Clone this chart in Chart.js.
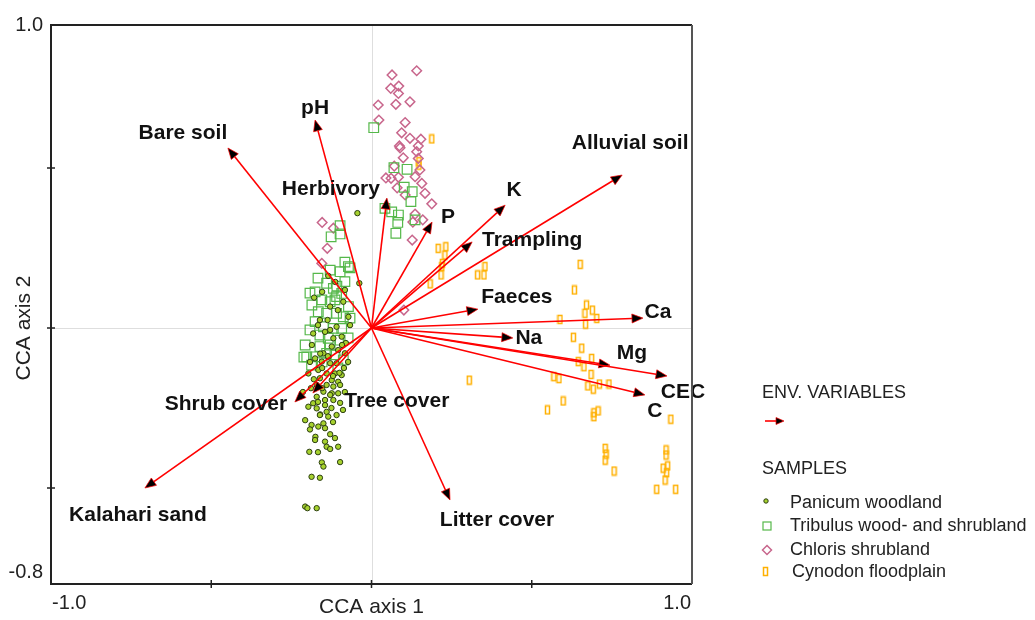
<!DOCTYPE html>
<html>
<head>
<meta charset="utf-8">
<script src="https://cdn.jsdelivr.net/npm/chart.js@4.4.0/dist/chart.umd.min.js"></script>
<style>
  html, body { margin: 0; padding: 0; background: #fff; }
  #wrap { width: 1035px; height: 620px; }
</style>
</head>
<body>
<div id="wrap"><canvas id="cca" width="1035" height="620"></canvas></div>
<script>
// axes
const xRange = [-1.0, 1.0];
const yRange = [-0.8, 0.947];
const xTickMarks = [-0.5, 0, 0.5];
const yTickMarks = [-0.5, 0, 0.5];
const xEndLabels = ['-1.0', '1.0'];
const yEndLabels = ['-0.8', '1.0'];
const xTitle = 'CCA axis 1';
const yTitle = 'CCA axis 2';

// environmental variables (biplot arrows)
const envNames = ['Bare soil', 'pH', 'Herbivory', 'P', 'K', 'Trampling', 'Alluvial soil', 'Faeces',
  'Ca', 'Na', 'Mg', 'CEC', 'C', 'Litter cover', 'Kalahari sand', 'Shrub cover', 'Tree cover'];
const envX = [-0.448, -0.176, 0.048, 0.189, 0.417, 0.314, 0.782, 0.332,
  0.847, 0.441, 0.744, 0.922, 0.853, 0.245, -0.707, -0.239, -0.183];
const envY = [0.5625, 0.650, 0.406, 0.331, 0.384, 0.269, 0.478, 0.059,
  0.031, -0.031, -0.116, -0.150, -0.209, -0.5375, -0.500, -0.231, -0.203];

// sample groups
const groupNames = ['Panicum woodland', 'Tribulus wood- and shrubland', 'Chloris shrubland', 'Cynodon floodplain'];

const panicumPts = [
  [-0.135, 0.163], [-0.038, 0.140], [-0.179, 0.095], [-0.088, 0.082], [-0.129, 0.067], [-0.072, 0.035],
  [-0.137, 0.025], [-0.109, 0.004], [-0.182, -0.017], [-0.145, -0.012], [-0.119, -0.032], [-0.093, -0.027],
  [-0.124, -0.058], [-0.104, -0.069], [-0.150, -0.079], [-0.083, -0.079], [-0.176, -0.095], [-0.155, -0.105],
  [-0.129, -0.110], [-0.109, -0.110], [-0.197, -0.142], [-0.166, -0.131], [-0.140, -0.142], [-0.114, -0.142],
  [-0.093, -0.147], [-0.161, -0.157], [-0.124, -0.163], [-0.104, -0.168], [-0.171, -0.178], [-0.140, -0.178],
  [-0.119, -0.183], [-0.098, -0.178], [-0.150, -0.199], [-0.124, -0.204], [-0.104, -0.204], [-0.171, -0.215],
  [-0.145, -0.225], [-0.119, -0.225], [-0.182, -0.235], [-0.145, -0.241], [-0.197, -0.246], [-0.171, -0.251],
  [-0.140, -0.262], [-0.109, -0.272], [-0.135, -0.277], [-0.187, -0.303], [-0.166, -0.308], [-0.150, -0.298],
  [-0.192, -0.317], [-0.145, -0.313], [-0.129, -0.332], [-0.145, -0.355], [-0.140, -0.371], [-0.104, -0.371],
  [-0.129, -0.378], [-0.194, -0.387], [-0.155, -0.420], [-0.150, -0.433], [-0.187, -0.465], [-0.161, -0.468],
  [-0.207, -0.558], [-0.200, -0.563], [-0.171, -0.563], [-0.044, 0.359], [-0.161, 0.025], [-0.129, -0.006],
  [-0.080, -0.047], [-0.186, -0.053], [-0.086, -0.125], [-0.154, -0.188], [-0.189, -0.188], [-0.083, -0.200],
  [-0.098, -0.234], [-0.214, -0.200], [-0.207, -0.288], [-0.160, -0.080], [-0.135, -0.090], [-0.120, -0.150],
  [-0.180, -0.160], [-0.100, -0.140], [-0.160, -0.270], [-0.125, -0.250], [-0.175, -0.340],
  [-0.113, 0.144], [-0.083, 0.119], [-0.154, 0.113], [-0.105, 0.056], [-0.167, 0.009], [-0.067, 0.009],
  [-0.092, -0.053], [-0.136, -0.088], [-0.073, -0.106], [-0.192, -0.106], [-0.154, -0.125], [-0.129, -0.209],
  [-0.167, -0.231], [-0.089, -0.256], [-0.161, -0.272], [-0.120, -0.294], [-0.176, -0.350], [-0.114, -0.344],
  [-0.167, -0.388], [-0.098, -0.419]
];
const tribulusPts = [
  [0.007, 0.626], [0.070, 0.501], [0.111, 0.496], [0.102, 0.440], [0.127, 0.426], [0.123, 0.395],
  [0.042, 0.374], [0.063, 0.363], [0.084, 0.353], [0.082, 0.330], [0.136, 0.338], [0.076, 0.296],
  [-0.098, 0.320], [-0.126, 0.285], [-0.098, 0.294], [-0.072, 0.192], [-0.098, 0.176], [-0.140, 0.140],
  [-0.176, 0.113], [-0.119, 0.124], [-0.093, 0.108], [-0.129, 0.082], [-0.072, 0.067], [-0.166, 0.051],
  [-0.140, 0.046], [-0.109, 0.046], [-0.088, 0.035], [-0.176, 0.020], [-0.150, 0.004], [-0.119, -0.001],
  [-0.093, -0.001], [-0.161, -0.022], [-0.135, -0.032], [-0.098, -0.038], [-0.161, -0.058], [-0.202, -0.090],
  [-0.176, -0.090], [-0.140, -0.079], [-0.114, -0.084], [-0.088, -0.100], [-0.187, -0.116], [-0.155, 0.088],
  [-0.109, 0.098], [-0.083, 0.145], [-0.192, 0.109], [-0.211, -0.091], [-0.067, 0.188], [-0.108, 0.131],
  [-0.083, 0.206], [-0.129, 0.181], [-0.167, 0.156], [-0.114, 0.088], [-0.186, 0.072], [-0.067, 0.031],
  [-0.192, -0.006], [-0.073, -0.031], [-0.129, -0.053], [-0.207, -0.053], [-0.154, -0.106], [-0.105, -0.125]
];
const chlorisPts = [
  [0.141, 0.804], [0.064, 0.791], [0.060, 0.749], [0.085, 0.756], [0.084, 0.733], [0.021, 0.697],
  [0.076, 0.699], [0.120, 0.707], [0.023, 0.650], [0.105, 0.642], [0.094, 0.610], [0.120, 0.593],
  [0.154, 0.590], [0.087, 0.569], [0.146, 0.569], [0.141, 0.551], [0.099, 0.532], [0.146, 0.530],
  [0.071, 0.506], [0.151, 0.494], [0.136, 0.473], [0.061, 0.468], [0.084, 0.471], [0.157, 0.452],
  [0.105, 0.416], [0.167, 0.421], [0.188, 0.388], [0.136, 0.356], [0.160, 0.338], [0.127, 0.275],
  [-0.154, 0.330], [-0.119, 0.312], [-0.138, 0.249], [-0.155, 0.202], [0.101, 0.056], [0.089, 0.563],
  [0.045, 0.469], [0.080, 0.438], [0.129, 0.331]
];
const cynodonPts = [
  [0.208, 0.249], [0.232, 0.254], [0.229, 0.228], [0.221, 0.202], [0.219, 0.192], [0.217, 0.166],
  [0.183, 0.138], [0.331, 0.166], [0.351, 0.166], [0.354, 0.192], [0.651, 0.199], [0.633, 0.119],
  [0.671, 0.072], [0.689, 0.056], [0.666, 0.046], [0.703, 0.030], [0.588, 0.027], [0.668, 0.012],
  [0.630, -0.029], [0.656, -0.063], [0.687, -0.095], [0.645, -0.105], [0.663, -0.121], [0.685, -0.145],
  [0.569, -0.152], [0.585, -0.158], [0.305, -0.163], [0.675, -0.181], [0.692, -0.191], [0.711, -0.175],
  [0.741, -0.175], [0.598, -0.228], [0.549, -0.256], [0.707, -0.259], [0.694, -0.265], [0.694, -0.277],
  [0.934, -0.285], [0.729, -0.376], [0.732, -0.394], [0.729, -0.413], [0.757, -0.447], [0.919, -0.381],
  [0.919, -0.397], [0.924, -0.431], [0.910, -0.438], [0.921, -0.452], [0.916, -0.475], [0.890, -0.504],
  [0.949, -0.504], [0.188, 0.591], [0.148, 0.520], [0.148, 0.509]
];

const FONT = '"Liberation Sans", Arial, Helvetica, sans-serif';
const ARROW_RED = '#ff0000';

// label placement relative to arrow tip (px)
const envLabelOffset = {
  'Bare soil': [-45, -15], 'pH': [0, -12], 'Herbivory': [-56, -9], 'P': [16, -5], 'K': [9, -15],
  'Trampling': [60, -2], 'Alluvial soil': [8, -32], 'Faeces': [39, -12], 'Ca': [15, -6], 'Na': [16, 0],
  'Mg': [22, -12], 'CEC': [16, 16], 'C': [10, 16], 'Litter cover': [47, 20], 'Kalahari sand': [-7, 27],
  'Shrub cover': [-69, 2], 'Tree cover': [84, 8]
};

function makeBarMarker(color) {
  const c = document.createElement('canvas');
  c.width = 7;
  c.height = 11;
  const g = c.getContext('2d');
  g.strokeStyle = color;
  g.lineWidth = 1.5;
  g.strokeRect(1.5, 1.5, 4, 8);
  return c;
}
const cynodonMarker = makeBarMarker('#ffb000');

function toXY(pts) {
  return pts.map(p => ({ x: p[0], y: p[1] }));
}

function drawArrow(ctx, x0, y0, x1, y1, headLen, headHalf) {
  const ang = Math.atan2(y1 - y0, x1 - x0);
  const c = Math.cos(ang), s = Math.sin(ang);
  const bx = x1 - headLen * c, by = y1 - headLen * s;
  ctx.strokeStyle = ARROW_RED;
  ctx.lineWidth = 1.6;
  ctx.beginPath();
  ctx.moveTo(x0, y0);
  ctx.lineTo(bx, by);
  ctx.stroke();
  ctx.beginPath();
  ctx.moveTo(x1, y1);
  ctx.lineTo(bx + headHalf * s, by - headHalf * c);
  ctx.lineTo(bx - headHalf * s, by + headHalf * c);
  ctx.closePath();
  ctx.fillStyle = '#000';
  ctx.fill();
  ctx.strokeStyle = ARROW_RED;
  ctx.lineWidth = 0.7;
  ctx.stroke();
}

// zero lines behind the samples
const zeroLines = {
  id: 'zeroLines',
  beforeDatasetsDraw(chart) {
    const { ctx, chartArea: a, scales: { x, y } } = chart;
    const px = Math.round(x.getPixelForValue(0)) + 0.5;
    const py = Math.round(y.getPixelForValue(0)) + 0.5;
    ctx.save();
    ctx.strokeStyle = '#dedede';
    ctx.lineWidth = 1;
    ctx.beginPath();
    ctx.moveTo(px, a.top); ctx.lineTo(px, a.bottom);
    ctx.moveTo(a.left, py); ctx.lineTo(a.right, py);
    ctx.stroke();
    ctx.restore();
  }
};

// biplot arrows, frame, ticks, labels, legend
const biplot = {
  id: 'biplot',
  afterDatasetsDraw(chart) {
    const { ctx, scales: { x, y } } = chart;
    const ox = x.getPixelForValue(0), oy = y.getPixelForValue(0);
    ctx.save();
    envNames.forEach((name, i) => {
      drawArrow(ctx, ox, oy, x.getPixelForValue(envX[i]), y.getPixelForValue(envY[i]), 11, 4.5);
    });
    ctx.font = 'bold 21px ' + FONT;
    ctx.fillStyle = '#111';
    ctx.textAlign = 'center';
    ctx.textBaseline = 'middle';
    envNames.forEach((name, i) => {
      const off = envLabelOffset[name] || [0, 0];
      ctx.fillText(name, x.getPixelForValue(envX[i]) + off[0], y.getPixelForValue(envY[i]) + off[1]);
    });
    ctx.restore();
  },
  afterDraw(chart) {
    const { ctx, chartArea: a, scales: { x, y } } = chart;
    ctx.save();
    // frame
    ctx.lineWidth = 2;
    ctx.strokeStyle = '#222';
    ctx.beginPath();
    ctx.moveTo(a.right, a.bottom); ctx.lineTo(a.left, a.bottom);
    ctx.lineTo(a.left, a.top); ctx.lineTo(a.right, a.top);
    ctx.stroke();
    ctx.strokeStyle = '#555';
    ctx.beginPath();
    ctx.moveTo(a.right, a.top); ctx.lineTo(a.right, a.bottom);
    ctx.stroke();
    // tick marks
    ctx.strokeStyle = '#222';
    ctx.lineWidth = 1.5;
    ctx.beginPath();
    xTickMarks.forEach(v => {
      const p = x.getPixelForValue(v);
      ctx.moveTo(p, a.bottom - 4); ctx.lineTo(p, a.bottom + 4);
    });
    yTickMarks.forEach(v => {
      const p = y.getPixelForValue(v);
      ctx.moveTo(a.left - 4, p); ctx.lineTo(a.left + 4, p);
    });
    ctx.stroke();

    // end labels
    ctx.fillStyle = '#222';
    ctx.font = '20px ' + FONT;
    ctx.textBaseline = 'middle';
    ctx.textAlign = 'left';
    ctx.fillText(xEndLabels[0], x.getPixelForValue(xRange[0]) + 1, a.bottom + 19);
    ctx.textAlign = 'right';
    ctx.fillText(xEndLabels[1], x.getPixelForValue(xRange[1]) - 1, a.bottom + 19);
    ctx.fillText(yEndLabels[0], a.left - 8, y.getPixelForValue(yRange[0]) - 12);
    ctx.fillText(yEndLabels[1], a.left - 8, y.getPixelForValue(yRange[1]));

    // axis titles
    ctx.font = '21px ' + FONT;
    ctx.textAlign = 'center';
    ctx.fillText(xTitle, (a.left + a.right) / 2, a.bottom + 23);
    ctx.save();
    ctx.translate(24, y.getPixelForValue(0));
    ctx.rotate(-Math.PI / 2);
    ctx.fillText(yTitle, 0, 0);
    ctx.restore();

    // legend
    const lx = 762;
    ctx.font = '18px ' + FONT;
    ctx.textAlign = 'left';
    ctx.fillStyle = '#222';
    ctx.fillText('ENV. VARIABLES', lx, 393);
    drawArrow(ctx, 765, 421, 784, 421, 8, 3.5);
    ctx.fillStyle = '#222';
    ctx.fillText('SAMPLES', lx, 469);
    const rows = [503, 526, 550, 572];
    chart.data.datasets.forEach((ds, i) => {
      const my = rows[i], mx = 767;
      ctx.save();
      ctx.strokeStyle = ds.pointBorderColor;
      ctx.fillStyle = ds.pointBackgroundColor;
      ctx.lineWidth = ds.pointBorderWidth;
      if (ds.pointStyle === 'circle') {
        ctx.beginPath(); ctx.arc(mx - 1, my - 2, 2.2, 0, Math.PI * 2); ctx.fill(); ctx.stroke();
      } else if (ds.pointStyle === 'rect') {
        ctx.strokeRect(mx - 4, my - 4, 8, 8);
      } else if (ds.pointStyle === 'rectRot') {
        ctx.beginPath();
        ctx.moveTo(mx, my - 4.5); ctx.lineTo(mx + 4.5, my); ctx.lineTo(mx, my + 4.5); ctx.lineTo(mx - 4.5, my);
        ctx.closePath(); ctx.stroke();
      } else {
        ctx.drawImage(ds.pointStyle, mx - 5, my - 6);
      }
      ctx.restore();
      ctx.fillStyle = '#222';
      ctx.fillText(ds.label, i === 3 ? 792 : 790, my);
    });
    ctx.restore();
  }
};

new Chart(document.getElementById('cca'), {
  type: 'scatter',
  data: {
    datasets: [
      {
        label: groupNames[0], data: toXY(panicumPts), pointStyle: 'circle', pointRadius: 2.7,
        pointBackgroundColor: '#a6d12e', pointBorderColor: '#2c3e12', pointBorderWidth: 1
      },
      {
        label: groupNames[1], data: toXY(tribulusPts), pointStyle: 'rect', pointRadius: 6.8,
        pointBackgroundColor: 'rgba(0,0,0,0)', pointBorderColor: '#55b84a', pointBorderWidth: 1.2
      },
      {
        label: groupNames[2], data: toXY(chlorisPts), pointStyle: 'rectRot', pointRadius: 4.8,
        pointBackgroundColor: 'rgba(0,0,0,0)', pointBorderColor: '#c8668c', pointBorderWidth: 1.5
      },
      {
        label: groupNames[3], data: toXY(cynodonPts), pointStyle: cynodonMarker, pointRadius: 5,
        pointBackgroundColor: 'rgba(0,0,0,0)', pointBorderColor: '#ffb000', pointBorderWidth: 1.5
      }
    ]
  },
  options: {
    responsive: false,
    animation: false,
    layout: { padding: { left: 51, top: 25, right: 343, bottom: 36 } },
    plugins: { legend: { display: false }, tooltip: { enabled: false } },
    scales: {
      x: {
        type: 'linear', min: xRange[0], max: xRange[1],
        grid: { display: false, drawTicks: false }, border: { display: false },
        ticks: { display: false }, title: { display: false }
      },
      y: {
        type: 'linear', min: yRange[0], max: yRange[1],
        grid: { display: false, drawTicks: false }, border: { display: false },
        ticks: { display: false }, title: { display: false }
      }
    }
  },
  plugins: [zeroLines, biplot]
});
</script>
</body>
</html>
